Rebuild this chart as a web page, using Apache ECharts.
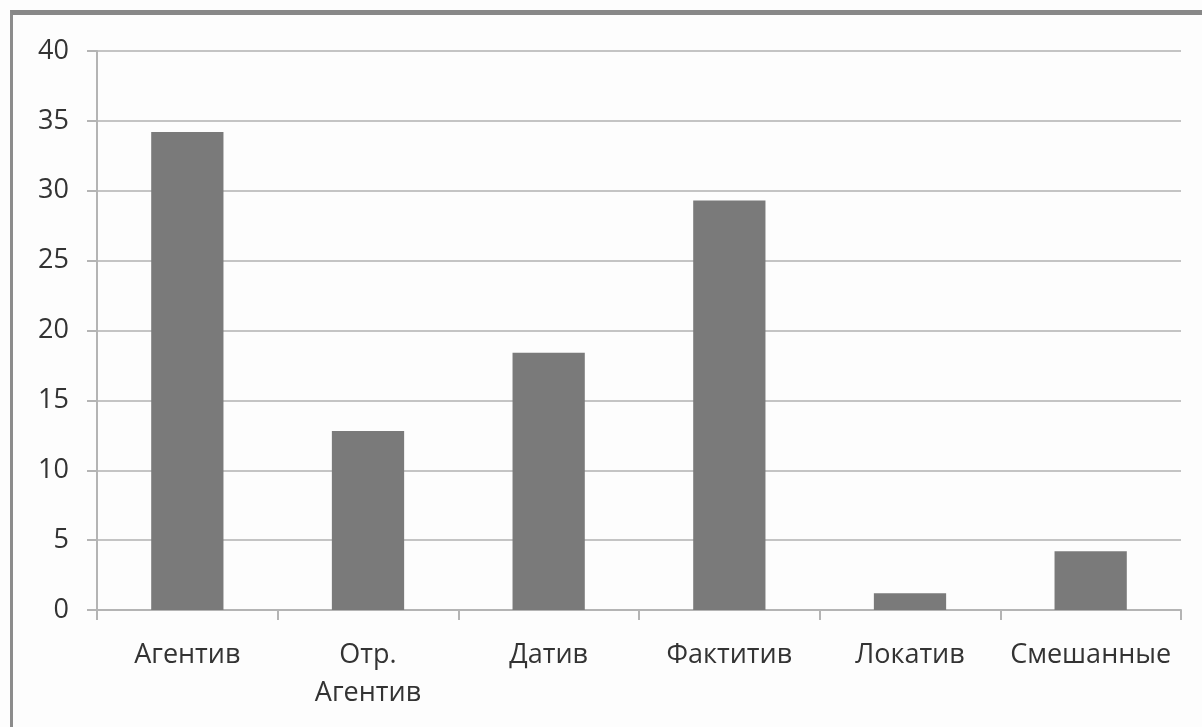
<!DOCTYPE html>
<html>
<head>
<meta charset="utf-8">
<script src="https://cdn.jsdelivr.net/npm/echarts@6/dist/echarts.min.js"></script>
<style>
  html, body { margin: 0; padding: 0; background: #fdfdfd; }
  #frame { position: absolute; left: 10px; top: 10px; width: 1192px; height: 717px;
           border-top: 5px solid #888888; border-left: 3px solid #8c8c8c; box-sizing: border-box; }
  #chart { position: absolute; left: 0; top: 0; width: 1202px; height: 727px; }
</style>
</head>
<body>
<div id="frame"></div>
<div id="chart"></div>
<script>
const categories = ['Агентив', 'Отр.\nАгентив', 'Датив', 'Фактитив', 'Локатив', 'Смешанные'];
const values = [34.2, 12.8, 18.4, 29.3, 1.2, 4.2];

const chart = echarts.init(document.getElementById('chart'));
chart.setOption({
  animation: false,
  grid: { left: 97, right: 21, top: 51, bottom: 117 },
  xAxis: {
    type: 'category',
    data: categories,
    axisLine: { lineStyle: { color: '#b4b4b4', width: 2 } },
    axisTick: { show: true, length: 10, lineStyle: { color: '#b4b4b4', width: 2 } },
    axisLabel: { color: '#333333', fontFamily: 'Open Sans', fontSize: 27, lineHeight: 38, margin: 26, interval: 0 }
  },
  yAxis: {
    type: 'value',
    min: 0, max: 40, interval: 5,
    axisLine: { show: true, lineStyle: { color: '#b4b4b4', width: 2 } },
    axisTick: { show: true, length: 10, lineStyle: { color: '#b4b4b4', width: 2 } },
    splitLine: { lineStyle: { color: '#c4c4c4', width: 2 } },
    axisLabel: { color: '#333333', fontFamily: 'Open Sans', fontSize: 27, margin: 28 }
  },
  series: [{
    type: 'bar',
    data: values,
    barWidth: '40%',
    itemStyle: { color: '#7a7a7a' }
  }]
});
</script>
</body>
</html>
